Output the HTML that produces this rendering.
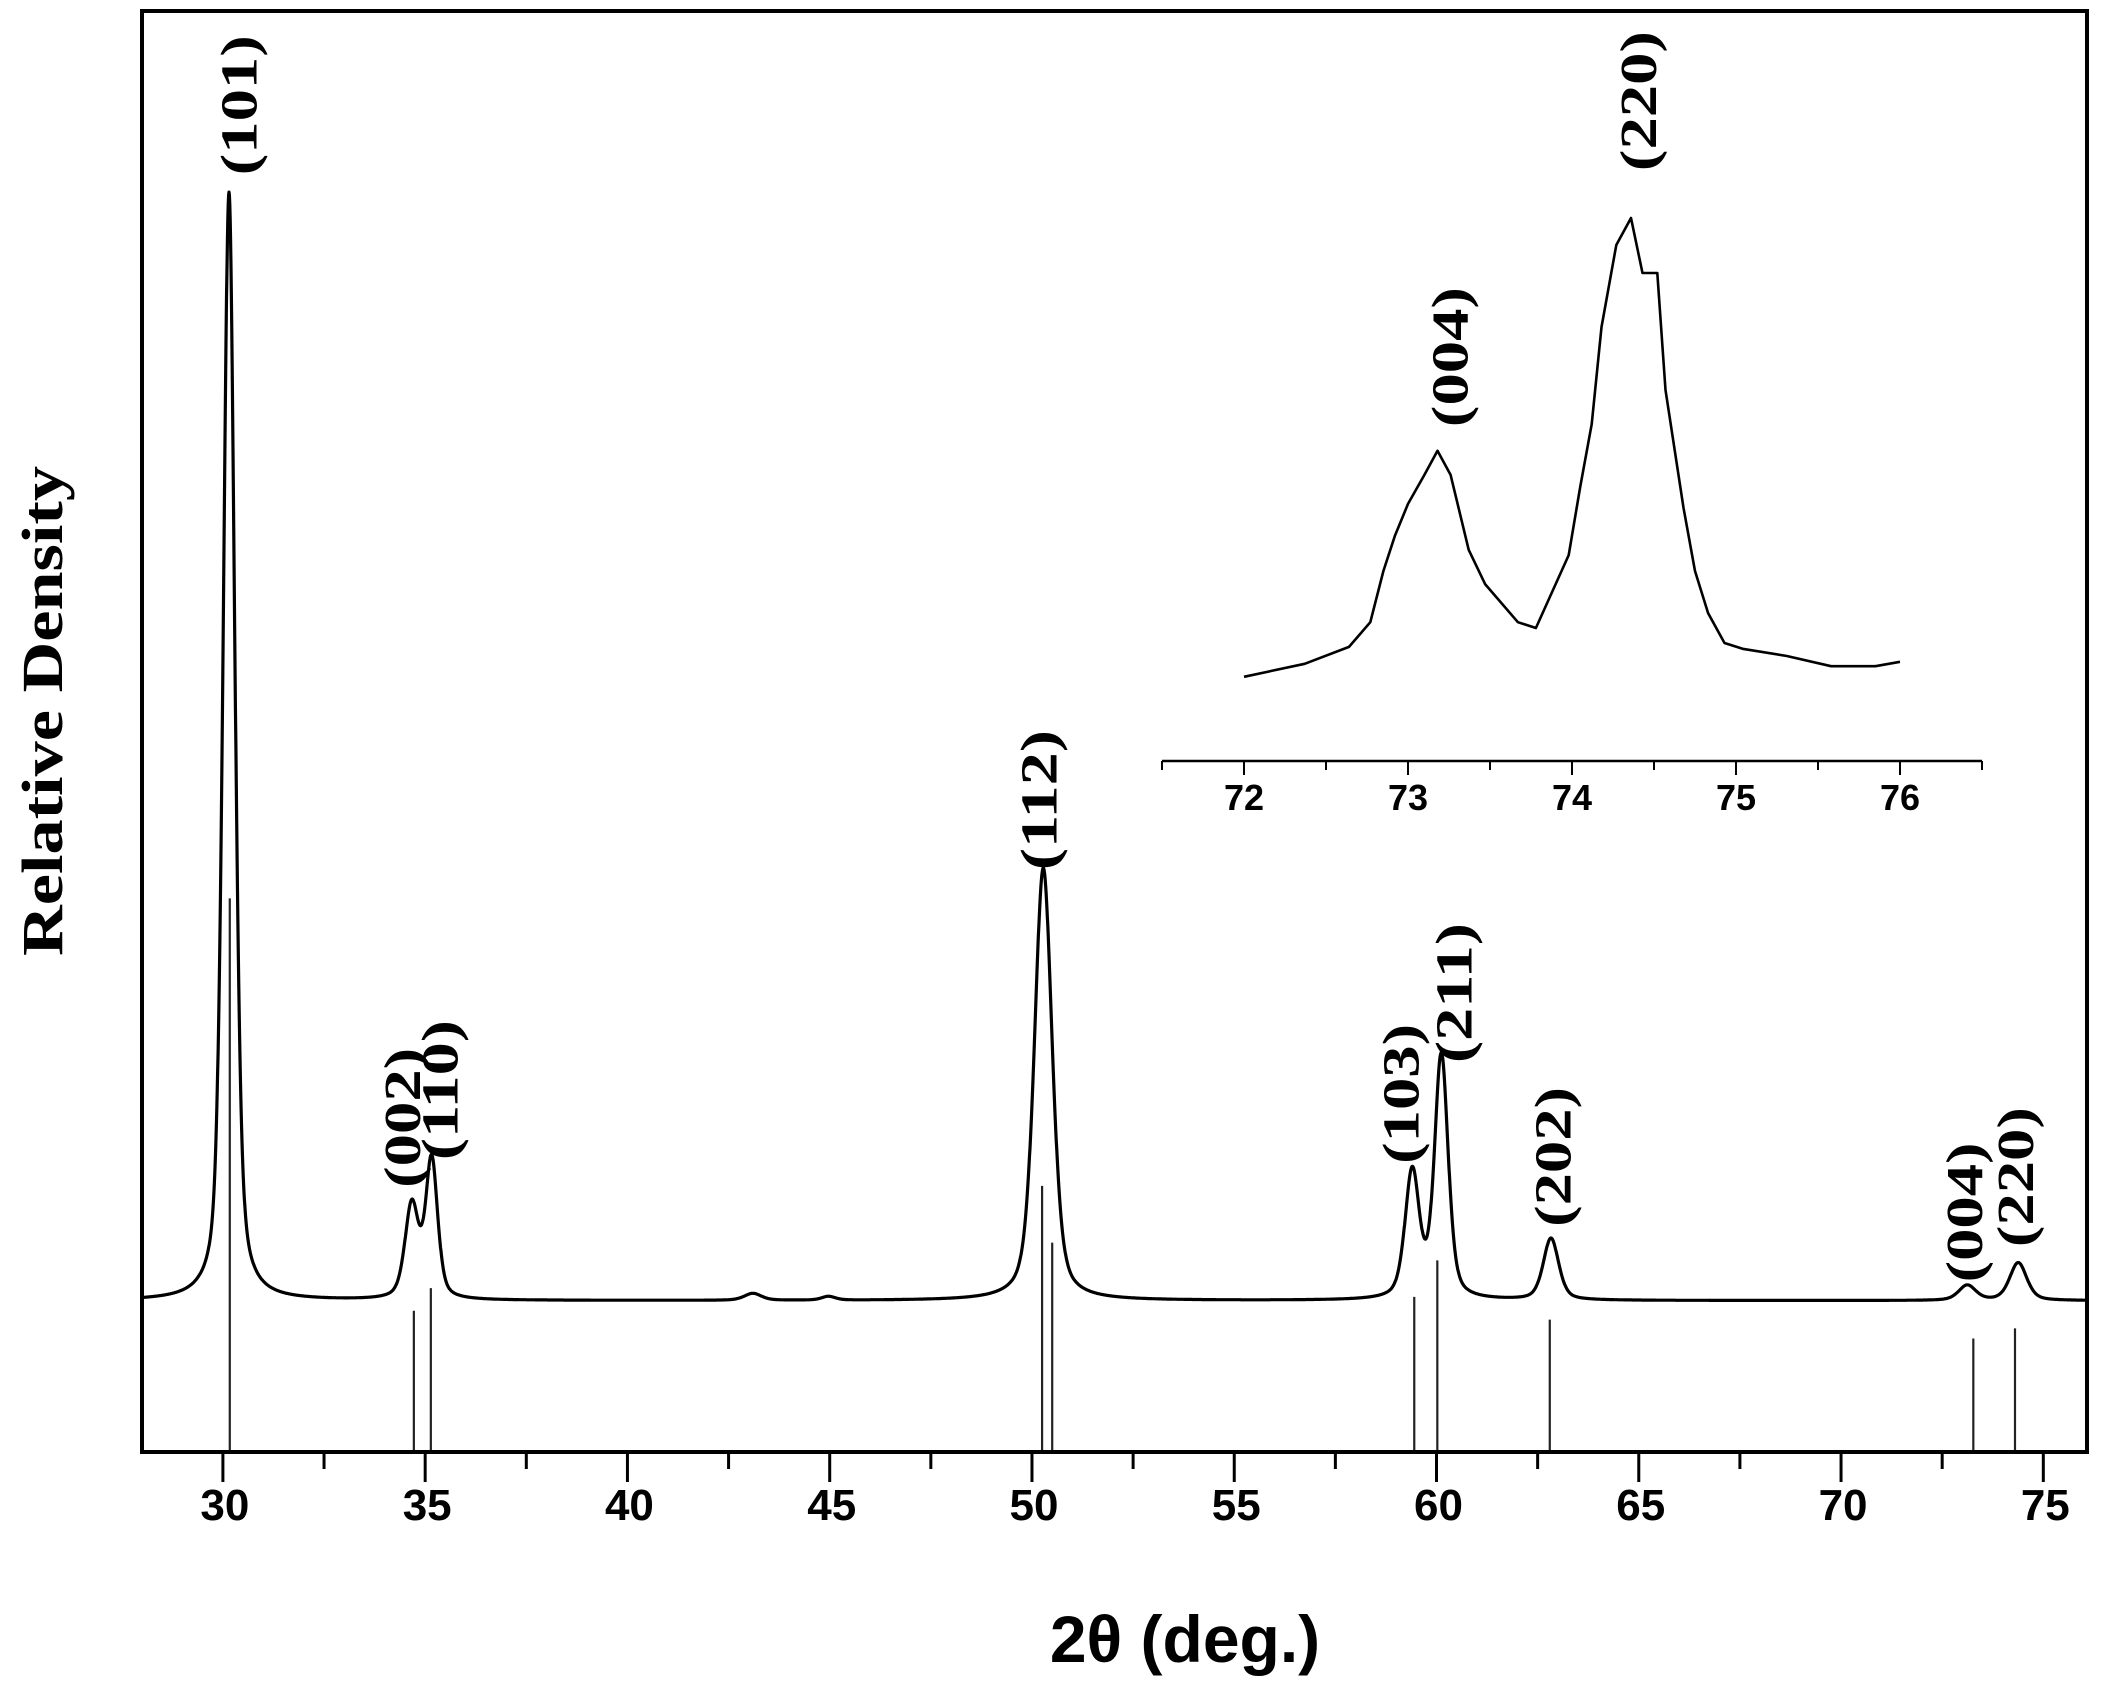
<!DOCTYPE html>
<html><head><meta charset="utf-8"><style>
html,body{margin:0;padding:0;background:#fff}
svg{display:block}
</style></head><body>
<svg id="chart" width="2104" height="1696" viewBox="0 0 2104 1696" xmlns="http://www.w3.org/2000/svg">
<rect width="2104" height="1696" fill="#fff"/>
<g id="main"></g>
<g id="inset"></g>
</svg>
<script>
// ---- main chart data ----
const peakPos   = [30.15, 34.67, 35.16, 43.1, 44.97, 50.28, 59.4, 60.12, 62.83, 73.12, 74.38];
const peakHt    = [87.9, 7.4, 11.0, 0.55, 0.3, 34.3, 10.0, 19.3, 4.9, 1.2, 3.0];
const peakFwhm  = [0.34, 0.4, 0.35, 0.5, 0.4, 0.52, 0.42, 0.4, 0.45, 0.5, 0.5];
const baseLevel = 12.0;
const stickPos  = [30.17, 34.72, 35.14, 50.25, 50.5, 59.45, 60.02, 62.8, 73.27, 74.3];
const stickVal  = [43.9, 11.2, 13.0, 21.1, 16.6, 12.3, 15.2, 10.5, 9.0, 9.8];
const xTicks    = [30, 35, 40, 45, 50, 55, 60, 65, 70, 75];
const hklLabels = ["(101)", "(002)", "(110)", "(112)", "(103)", "(211)", "(202)", "(004)", "(220)"];
const hklPos    = [30.42, 34.47, 35.39, 50.2, 59.15, 60.46, 62.9, 73.08, 74.34];
const hklVal    = [106.8, 26.5, 28.7, 51.7, 28.4, 36.4, 23.4, 19.0, 21.8];
// ---- inset data ----
const insetX = [72.0,72.37,72.64,72.77,72.85,72.92,73.0,73.1,73.18,73.26,73.37,73.47,73.67,73.78,73.98,74.05,74.12,74.18,74.27,74.36,74.43,74.52,74.57,74.68,74.75,74.83,74.93,75.04,75.31,75.58,75.85,76.0];
const insetY = [4.8,7.5,11.0,16.1,26.7,34.0,40.6,46.6,51.6,46.6,31.1,24.0,16.1,14.9,30.0,44.1,57.1,77.2,94.2,99.8,88.4,88.4,64.2,39.8,26.7,18.0,11.8,10.6,9.1,7.0,7.0,7.9];
const insetTicks = [72, 73, 74, 75, 76];
const insetLabels = ["(004)", "(220)"];
const insetLabelX = [73.2, 74.35];
const insetLabelY = [71, 124];

const NS = "http://www.w3.org/2000/svg";
function el(tag, attrs, parent, txt){const e=document.createElementNS(NS,tag);for(const k in attrs)e.setAttribute(k,attrs[k]);if(txt!==undefined)e.textContent=txt;parent.appendChild(e);return e;}
const L=142,R=2087,T=11,B=1452;
const xMin=28,xMax=76.08;
const X=v=>L+(v-xMin)/(xMax-xMin)*(R-L);
const Y=v=>B-v*12.61;
const main=document.getElementById('main');
const serif='"Liberation Serif", serif', sans='"Liberation Sans", sans-serif';

function profile(x){let s=baseLevel;for(let i=0;i<peakPos.length;i++){const w=peakFwhm[i]/2,d=x-peakPos[i];const g=Math.exp(-Math.LN2*d*d/(w*w)),l=1/(1+d*d/(w*w));s+=peakHt[i]*(0.55*g+0.45*l);}return s;}
let d="";for(let x=xMin;x<=xMax;x+=0.01){d+=(d?"L":"M")+X(x).toFixed(1)+","+Y(profile(x)).toFixed(1);}
const curve=el('path',{d:d,fill:'none',stroke:'#000','stroke-width':3.2,'stroke-linejoin':'round'},main);



stickPos.forEach((p,i)=>{const s=el('line',{x1:X(p),x2:X(p),y1:B,y2:Y(stickVal[i]),stroke:'#222','stroke-width':2.2},main);

});

const frame=el('rect',{x:L,y:T,width:R-L,height:B-T,fill:'none',stroke:'#000','stroke-width':4},main);



for(let v=30;v<=75;v+=2.5){const major=v%5===0;
const t=el('line',{x1:X(v),x2:X(v),y1:B,y2:B+(major?30:17),stroke:'#000','stroke-width':3},main);

}
xTicks.forEach(v=>{const t=el('text',{x:X(v)+2,y:1520,'text-anchor':'middle','font-family':sans,'font-weight':'bold','font-size':44},main,String(v));

});

const xt=el('text',{x:1185,y:1662,'text-anchor':'middle','font-family':sans,'font-weight':'bold','font-size':66},main,"2θ (deg.)");


const yt=el('text',{transform:'translate(62,711) rotate(-90)','text-anchor':'middle','font-family':serif,'font-weight':'bold','font-size':58,textLength:490,lengthAdjust:'spacingAndGlyphs'},main,"Relative Density");



hklLabels.forEach((s,i)=>{const t=el('text',{transform:`translate(${X(hklPos[i])},${Y(hklVal[i])}) rotate(-90)`,'text-anchor':'middle','dominant-baseline':'central','font-family':serif,'font-weight':'bold','font-size':52,textLength:140,lengthAdjust:'spacingAndGlyphs'},main,s);

});

// inset
const inset=document.getElementById('inset');
const iL=1162,iR=1982,iA=761;
const IX=v=>iL+(v-71.5)/5*(iR-iL);
const IY=v=>700-v*4.83;
const ax=el('line',{x1:iL,x2:iR,y1:iA,y2:iA,stroke:'#000','stroke-width':2.5},inset);


for(let v=71.5;v<=76.5;v+=0.5){const major=Math.abs(v-Math.round(v))<1e-6&&v>=72&&v<=76;
const t=el('line',{x1:IX(v),x2:IX(v),y1:iA,y2:iA+(major?14:9),stroke:'#000','stroke-width':2},inset);

}
insetTicks.forEach(v=>{const t=el('text',{x:IX(v),y:810,'text-anchor':'middle','font-family':sans,'font-weight':'bold','font-size':36},inset,String(v));

});
let di="";insetX.forEach((x,i)=>{di+=(i?"L":"M")+IX(x).toFixed(1)+","+IY(insetY[i]).toFixed(1);});
const ic=el('path',{d:di,fill:'none',stroke:'#000','stroke-width':2.6,'stroke-linejoin':'round'},inset);


insetLabels.forEach((s,i)=>{const t=el('text',{transform:`translate(${IX(insetLabelX[i])+10},${IY(insetLabelY[i])}) rotate(-90)`,'text-anchor':'middle','dominant-baseline':'central','font-family':serif,'font-weight':'bold','font-size':52,textLength:140,lengthAdjust:'spacingAndGlyphs'},inset,s);

});
</script>
</body></html>
